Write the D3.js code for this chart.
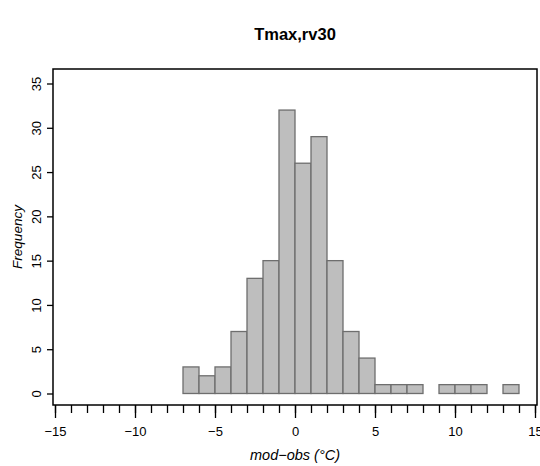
<!DOCTYPE html>
<html>
<head>
<meta charset="utf-8">
<script src="https://cdn.jsdelivr.net/npm/d3@7"></script>
<style>
    body { margin: 0; background: #fff; }
    text { font-family: "Liberation Sans", Arial, sans-serif; }
</style>
</head>
<body>
<div id="chart_parent"></div>
<script>
// histogram bins (left edge) and counts
const binStarts = [-7, -6, -5, -4, -3, -2, -1, 0, 1, 2, 3, 4, 5, 6, 7, 8, 9, 10, 11, 12, 13];
const binWidth = 1;
const counts = [3, 2, 3, 7, 13, 15, 32, 26, 29, 15, 7, 4, 1, 1, 1, 0, 1, 1, 1, 0, 1];
const xTicksMajor = [-15, -10, -5, 0, 5, 10, 15];
const yTicks = [0, 5, 10, 15, 20, 25, 30, 35];

const titleText = 'Tmax,rv30';
const xLabel = 'mod\u2212obs (\u00b0C)';
const yLabel = 'Frequency';

const config = {
    outerWidth: 540,
    outerHeight: 466,
    box: { left: 53, right: 537, top: 69, bottom: 405 },
    xRange: [55, 535],
    yRange: [393.5, 83.5],
};

const svg = d3.select('#chart_parent').append('svg')
    .attr('width', config.outerWidth)
    .attr('height', config.outerHeight);

const xScale = d3.scaleLinear().domain([-15, 15]).range(config.xRange);
const yScale = d3.scaleLinear().domain([0, 35]).range(config.yRange);

const bins = binStarts.map((x0, i) => ({ x0, x1: x0 + binWidth, n: counts[i] }));

svg.append('g').selectAll('rect')
    .data(bins)
    .enter()
    .append('rect')
    .attr('x', d => xScale(d.x0))
    .attr('y', d => yScale(d.n))
    .attr('width', d => xScale(d.x1) - xScale(d.x0))
    .attr('height', d => yScale(0) - yScale(d.n))
    .attr('fill', '#bebebe')
    .attr('stroke', '#6e6e6e')
    .attr('stroke-width', 1.3);

// plot box
const b = config.box;
svg.append('rect')
    .attr('x', b.left)
    .attr('y', b.top)
    .attr('width', b.right - b.left)
    .attr('height', b.bottom - b.top)
    .attr('fill', 'none')
    .attr('stroke', '#000')
    .attr('stroke-width', 1.5);

// x axis: minor ticks every unit, longer ticks with labels every 5
const minorTicks = d3.range(-15, 16);
const xMinor = d3.axisBottom(xScale).tickValues(minorTicks).tickSize(8).tickFormat('');
const xMajor = d3.axisBottom(xScale).tickValues(xTicksMajor).tickSize(13).tickPadding(9)
    .tickFormat(d => (d < 0 ? '\u2212' + Math.abs(d) : String(d)));

[xMinor, xMajor].forEach(ax => {
    const g = svg.append('g')
        .attr('transform', `translate(0,${b.bottom})`)
        .call(ax);
    g.select('.domain').remove();
    g.selectAll('.tick line').attr('stroke', '#000').attr('stroke-width', 1.3);
    g.selectAll('text').attr('font-size', 13).attr('fill', '#000')
        .attr('font-family', '"Liberation Sans", Arial, sans-serif');
});

// y axis with labels parallel to the axis
const yAxisG = svg.append('g')
    .attr('transform', `translate(${b.left},0)`)
    .call(d3.axisLeft(yScale).tickValues(yTicks).tickSize(6).tickFormat(d3.format('d')));
yAxisG.select('.domain').remove();
yAxisG.selectAll('.tick line').attr('stroke', '#000').attr('stroke-width', 1.3);
yAxisG.selectAll('.tick text')
    .attr('x', null).attr('dy', null)
    .attr('transform', 'translate(-12,0) rotate(-90)')
    .attr('text-anchor', 'middle')
    .attr('font-size', 13)
    .attr('fill', '#000')
    .attr('font-family', '"Liberation Sans", Arial, sans-serif');

// title and axis labels
svg.append('text')
    .attr('x', (b.left + b.right) / 2)
    .attr('y', 40)
    .attr('text-anchor', 'middle')
    .attr('font-size', 16.5)
    .attr('font-weight', 'bold')
    .text(titleText);

svg.append('text')
    .attr('x', (b.left + b.right) / 2)
    .attr('y', 460)
    .attr('text-anchor', 'middle')
    .attr('font-size', 14.5)
    .attr('font-style', 'italic')
    .text(xLabel);

svg.append('text')
    .attr('transform', `translate(22,${(b.top + b.bottom) / 2}) rotate(-90)`)
    .attr('text-anchor', 'middle')
    .attr('font-size', 13.5)
    .attr('font-style', 'italic')
    .text(yLabel);
</script>
</body>
</html>
